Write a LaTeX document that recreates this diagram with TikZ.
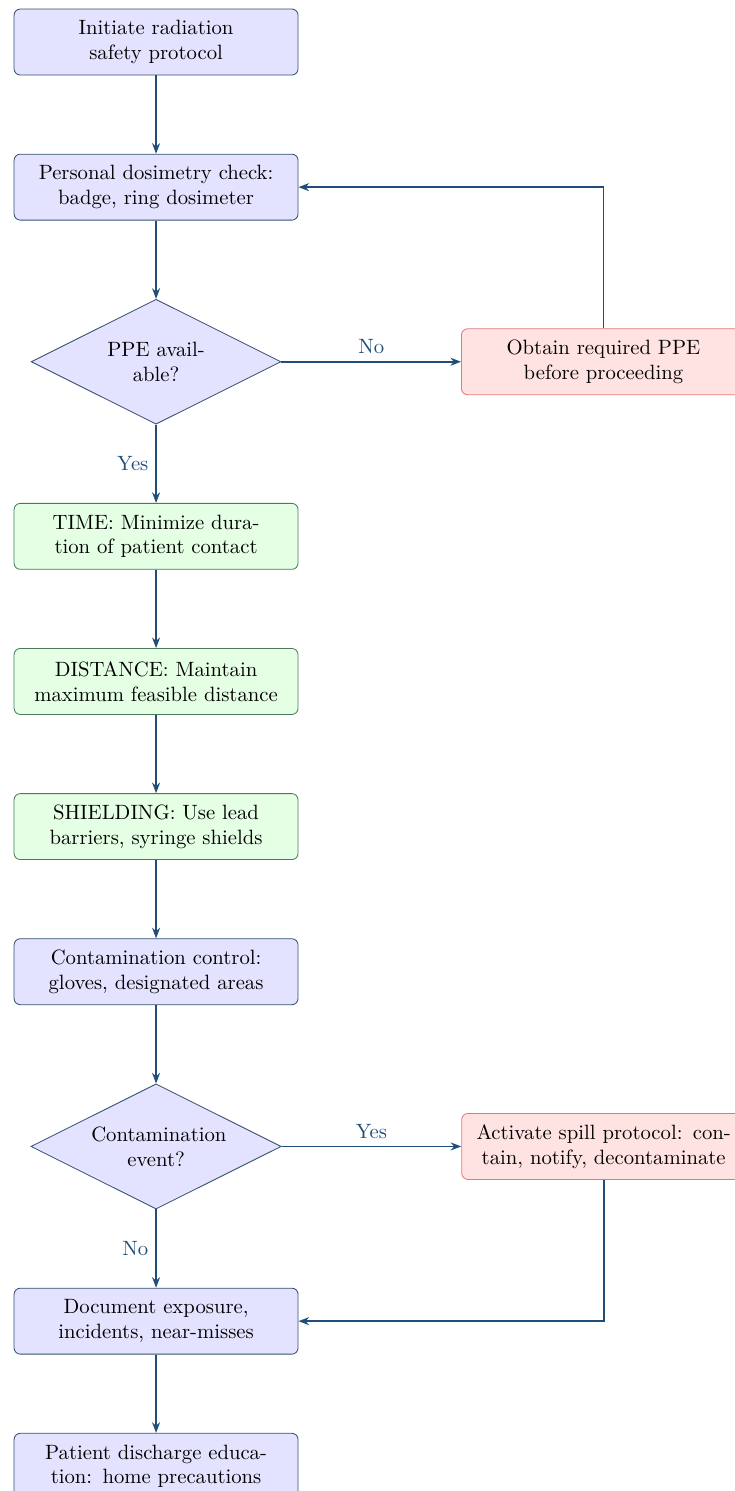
\documentclass[tikz,border=0pt]{standalone}
\usepackage{xcolor}
\usepackage{tikz}
\usetikzlibrary{arrows.meta,positioning,shapes.geometric}

\definecolor{flowline}{HTML}{1F4E79}
\definecolor{boxline}{HTML}{34506E}
\definecolor{safeline}{HTML}{4A7A58}
\definecolor{alertline}{HTML}{E07A7A}

\begin{document}
\begin{tikzpicture}[
node distance=1.33cm,
box/.style={draw=boxline, rounded corners=3pt, fill=blue!11, text width=4.4cm, inner xsep=6pt, align=center, minimum height=1.12cm},
safe/.style={box, draw=safeline, fill=green!10},
alert/.style={box, draw=alertline, fill=red!11},
decision/.style={diamond, aspect=2, draw=boxline, fill=blue!11, text width=2.2cm, align=center},
arr/.style={-{Stealth[length=1.8mm]}, thick, draw=flowline},
lbl/.style={text=flowline}
]
\useasboundingbox (-75.4pt,-700pt) rectangle (279.2pt,20.3pt);
\node[box] (start) at (0,0) {Initiate radiation safety protocol};
\node[box, below=of start] (dosi) {Personal dosimetry check: badge, ring dosimeter};
\node[decision, below=of dosi] (ppe) {PPE avail-\\able?};
\node[alert, right=3.05cm of ppe] (obtain) {Obtain required PPE before proceeding};
\node[safe, below=of ppe] (time) {TIME: Minimize duration of patient contact};
\node[safe, below=of time] (dist) {DISTANCE: Maintain maximum feasible distance};
\node[safe, below=of dist] (shield) {SHIELDING: Use lead barriers, syringe shields};
\node[box, below=of shield] (contam) {Contamination control: gloves, designated areas};
\node[decision, below=of contam] (event) {Contamination event?};
\node[alert, right=3.05cm of event] (spill) {Activate spill protocol: contain, notify, decontaminate};
\node[box, below=of event] (docu) {Document exposure, incidents, near-misses};
\node[box, below=of docu] (educ) {Patient discharge education: home precautions};
\draw[arr] (start)--(dosi);
\draw[arr] (dosi)--(ppe);
\draw[arr] (ppe)--node[lbl, above]{No}(obtain);
\draw[arr] (obtain.north)|-(dosi.east);
\draw[arr] (ppe)--node[lbl, left]{Yes}(time);
\draw[arr] (time)--(dist);
\draw[arr] (dist)--(shield);
\draw[arr] (shield)--(contam);
\draw[arr] (contam)--(event);
\draw[arr] (event)--node[lbl, above]{Yes}(spill);
\draw[arr] (event)--node[lbl, left]{No}(docu);
\draw[arr] (spill.south)|-(docu.east);
\draw[arr] (docu)--(educ);
\end{tikzpicture}
\end{document}
